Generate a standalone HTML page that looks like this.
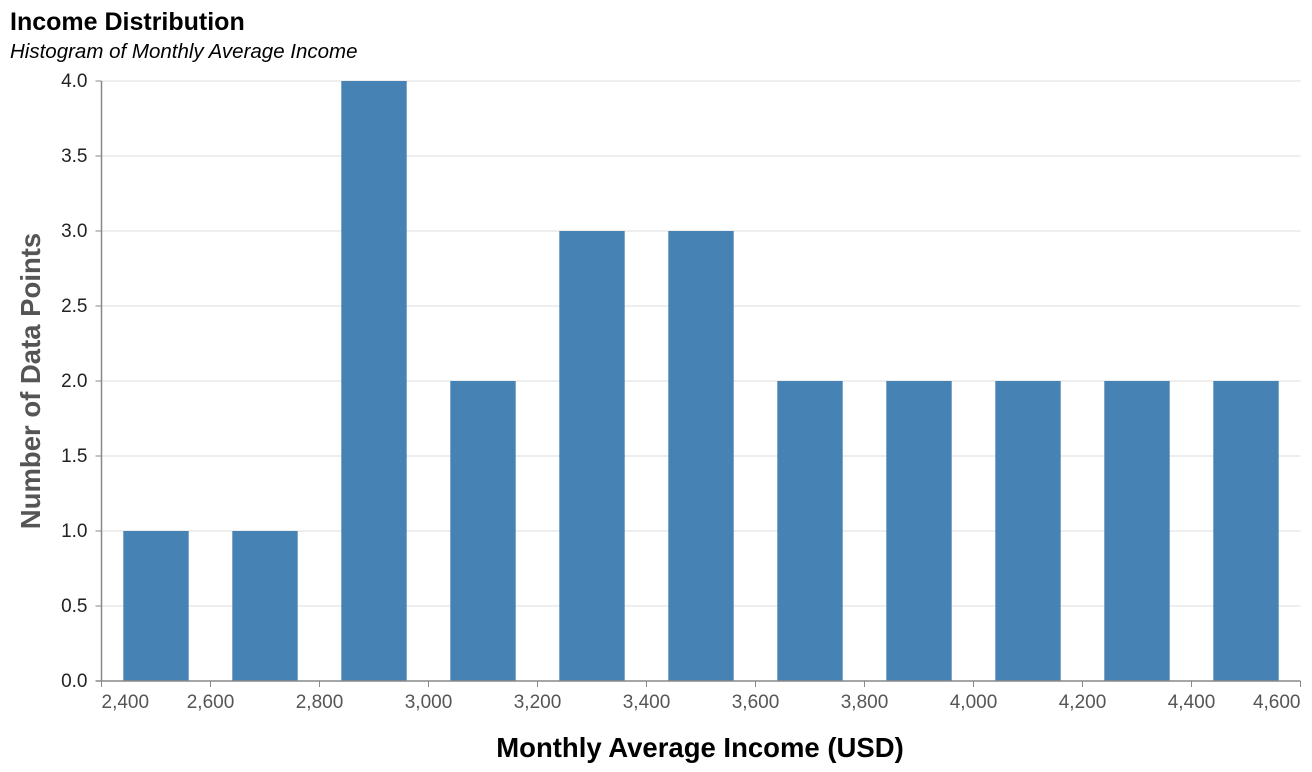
<!DOCTYPE html>
<html><head><meta charset="utf-8"><style>
body{margin:0;background:#fff}
svg{display:block;font-family:"Liberation Sans",Arial,sans-serif}
</style></head><body>
<svg id="chart" width="1312" height="772">
<text x="10" y="30" font-size="25" font-weight="bold" fill="#000">Income Distribution</text>
<text x="10" y="58" font-size="20.5" font-style="italic" fill="#000">Histogram of Monthly Average Income</text>
<g id="grid"></g><g id="bars"></g><g id="axes"></g>
<text transform="translate(40,381) rotate(-90)" text-anchor="middle" font-size="27.5" font-weight="bold" fill="#555">Number of Data Points</text>
<text x="700" y="757" text-anchor="middle" font-size="27.5" font-weight="bold" fill="#000">Monthly Average Income (USD)</text>
</svg>
<script>
const binStarts=[2400,2600,2800,3000,3200,3400,3600,3800,4000,4200,4400];
const counts=[1,1,4,2,3,3,2,2,2,2,2];
const xTicks=[2400,2600,2800,3000,3200,3400,3600,3800,4000,4200,4400,4600];
const yTicks=[0,0.5,1,1.5,2,2.5,3,3.5,4];
const binWidth=200;
const NS="http://www.w3.org/2000/svg";
const x0=101.5,x1=1300.5,y0=681,y1=81,xmin=2400,xmax=4600,ymax=4;
const X=v=>x0+(v-xmin)/(xmax-xmin)*(x1-x0);
const Y=v=>y0-v/ymax*(y0-y1);
function mk(t,a,p){const e=document.createElementNS(NS,t);for(const k in a)e.setAttribute(k,a[k]);p.appendChild(e);return e;}
const grid=document.getElementById('grid'),bars=document.getElementById('bars'),axes=document.getElementById('axes');
yTicks.forEach(v=>{
 const g=mk('line',{x1:x0,x2:x1,y1:Y(v),y2:Y(v),stroke:'#ddd','stroke-width':1},grid);
 
 
 const t=mk('line',{x1:x0-6,x2:x0,y1:Y(v),y2:Y(v),stroke:'#888'},axes);
 
 
 const l=mk('text',{x:x0-14,y:Y(v)+6,'text-anchor':'end','font-size':19,fill:'#222'},axes);
 l.textContent=v.toFixed(1);
 
 
});
binStarts.forEach((b,i)=>{
 const r=mk('rect',{x:X(b+40),width:X(b+binWidth-40)-X(b+40),y:Y(counts[i]),height:Y(0)-Y(counts[i]),fill:'#4682b4'},bars);
 
 
});
const ya=mk('line',{x1:x0,x2:x0,y1:y1,y2:y0,stroke:'#888','stroke-width':1.5},axes);


const xa=mk('line',{x1:x0-6,x2:x1,y1:y0,y2:y0,stroke:'#888','stroke-width':1.5},axes);


xTicks.forEach((v,i)=>{
 const t=mk('line',{x1:X(v),x2:X(v),y1:y0,y2:y0+6,stroke:'#888'},axes);
 
 
 const anchor=i===0?'start':(i===xTicks.length-1?'end':'middle');
 const l=mk('text',{x:X(v),y:y0+27,'text-anchor':anchor,'font-size':19,fill:'#555'},axes);
 l.textContent=v.toLocaleString('en-US');
 
 
});
</script>
</body></html>
